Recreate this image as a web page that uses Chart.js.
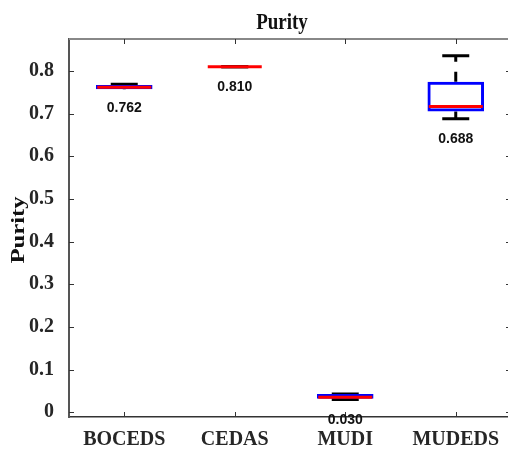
<!DOCTYPE html>
<html>
<head>
<meta charset="utf-8">
<script src="https://cdn.jsdelivr.net/npm/chart.js@4/dist/chart.umd.min.js"></script>
<style>
  html, body { margin: 0; padding: 0; background: #fff; overflow: hidden; }
  canvas { display: block; }
</style>
</head>
<body>
<canvas id="purityChart" width="512" height="450"></canvas>
<script>
var categories = ["BOCEDS", "CEDAS", "MUDI", "MUDEDS"];
var mins    = [0.762, 0.810, 0.030, 0.688];
var q1s     = [0.757, 0.810, 0.032, 0.705];
var medians = [0.762, 0.810, 0.035, 0.7165];
var q3s     = [0.767, 0.810, 0.043, 0.775];
var maxs    = [0.769, 0.810, 0.043, 0.836];
var yTicks  = [0, 0.1, 0.2, 0.3, 0.4, 0.5, 0.6, 0.7, 0.8];

var serif = "Liberation Serif";

// whisker segments q3->max and q1->min, null between them so they stay apart
var whiskerPoints = [];
categories.forEach(function (c, i) {
  whiskerPoints.push({ x: c, y: q3s[i] }, { x: c, y: maxs[i] }, { x: c, y: null });
  whiskerPoints.push({ x: c, y: q1s[i] }, { x: c, y: mins[i] }, { x: c, y: null });
});

var capPoints = [];
categories.forEach(function (c, i) {
  capPoints.push({ x: c, y: maxs[i] }, { x: c, y: mins[i] });
});

var boxExtras = {
  id: "boxExtras",
  afterDraw: function (chart) {
    var ctx = chart.ctx, a = chart.chartArea;
    var x = chart.scales.x, y = chart.scales.y;
    ctx.save();

    // top / right frame
    ctx.strokeStyle = "#888";
    ctx.lineWidth = 2;
    ctx.beginPath();
    ctx.moveTo(a.left, a.top);
    ctx.lineTo(a.right, a.top);
    ctx.lineTo(a.right, a.bottom);
    ctx.stroke();

    // inward ticks
    ctx.strokeStyle = "#333";
    ctx.lineWidth = 1;
    ctx.beginPath();
    y.ticks.forEach(function (t, i) {
      var py = Math.round(y.getPixelForTick(i)) + 0.5;
      ctx.moveTo(a.left, py); ctx.lineTo(a.left + 5, py);
      ctx.moveTo(a.right - 5, py); ctx.lineTo(a.right, py);
    });
    x.ticks.forEach(function (t, i) {
      var px = Math.round(x.getPixelForTick(i)) + 0.5;
      ctx.moveTo(px, a.top); ctx.lineTo(px, a.top + 5);
      ctx.moveTo(px, a.bottom - 5); ctx.lineTo(px, a.bottom);
    });
    ctx.stroke();

    // min value under each box
    ctx.fillStyle = "#111";
    ctx.font = "bold 14px 'Liberation Sans'";
    ctx.textAlign = "center";
    ctx.textBaseline = "alphabetic";
    mins.forEach(function (v, i) {
      ctx.fillText(v.toFixed(3), x.getPixelForValue(i), y.getPixelForValue(v) + 24.5);
    });

    // title
    ctx.save();
    ctx.translate((a.left + a.right) / 2 - 8, 29);
    ctx.scale(1, 1.25);
    ctx.font = "bold 19px '" + serif + "'";
    ctx.fillText("Purity", 0, 0);
    ctx.restore();

    // y axis title
    ctx.save();
    ctx.translate(24, (a.top + a.bottom) / 2 + 2);
    ctx.rotate(-Math.PI / 2);
    ctx.scale(1.3, 1);
    ctx.font = "bold 19px '" + serif + "'";
    ctx.fillText("Purity", 0, 0);
    ctx.restore();

    ctx.restore();
  }
};

new Chart(document.getElementById("purityChart").getContext("2d"), {
  type: "bar",
  plugins: [boxExtras],
  data: {
    labels: categories,
    datasets: [
      {
        type: "line",
        label: "median",
        data: categories.map(function (c, i) { return { x: c, y: medians[i] }; }),
        showLine: false,
        pointStyle: "line",
        pointRadius: 27,
        pointHoverRadius: 27,
        pointBorderWidth: 3,
        pointBorderColor: "#ff0000",
        order: 0
      },
      {
        type: "bar",
        label: "box",
        data: categories.map(function (c, i) { return [q1s[i], q3s[i]]; }),
        backgroundColor: "rgba(0,0,0,0)",
        borderColor: "#0000ff",
        borderWidth: 3,
        borderSkipped: false,
        barPercentage: 0.512,
        categoryPercentage: 1,
        order: 1
      },
      {
        type: "line",
        label: "caps",
        data: capPoints,
        showLine: false,
        pointStyle: "line",
        pointRadius: 13.5,
        pointHoverRadius: 13.5,
        pointBorderWidth: 3,
        pointBorderColor: "#000",
        order: 2
      },
      {
        type: "line",
        label: "whiskers",
        data: whiskerPoints,
        borderColor: "#000",
        borderWidth: 3,
        borderDash: [10, 10],
        pointRadius: 0,
        spanGaps: false,
        order: 3
      }
    ]
  },
  options: {
    responsive: false,
    animation: false,
    devicePixelRatio: 1,
    layout: { autoPadding: false, padding: { top: 39, right: 1, left: 0, bottom: 0 } },
    plugins: {
      legend: { display: false },
      tooltip: { enabled: false },
      title: { display: false }
    },
    scales: {
      x: {
        type: "category",
        offset: true,
        afterFit: function (s) {
          s.height = 33;
          s.paddingLeft = 0;
          s.paddingRight = 0;
        },
        grid: { display: false },
        border: { display: true, color: "#333", width: 1.5 },
        ticks: {
          padding: 3,
          maxRotation: 0,
          autoSkip: false,
          color: "#262626",
          font: { family: serif, size: 20, weight: "bold" }
        }
      },
      y: {
        min: -0.011,
        max: 0.875,
        afterBuildTicks: function (s) {
          s.ticks = yTicks.map(function (v) { return { value: v }; });
        },
        afterFit: function (s) {
          s.width = 69;
          s.paddingTop = 0;
          s.paddingBottom = 0;
        },
        grid: { display: false },
        border: { display: true, color: "#555", width: 2 },
        ticks: {
          padding: 7,
          color: "#262626",
          font: { family: serif, size: 20, weight: "bold" },
          callback: function (v) { return v === 0 ? "0" : v.toFixed(1); }
        }
      }
    }
  }
});
</script>
</body>
</html>
